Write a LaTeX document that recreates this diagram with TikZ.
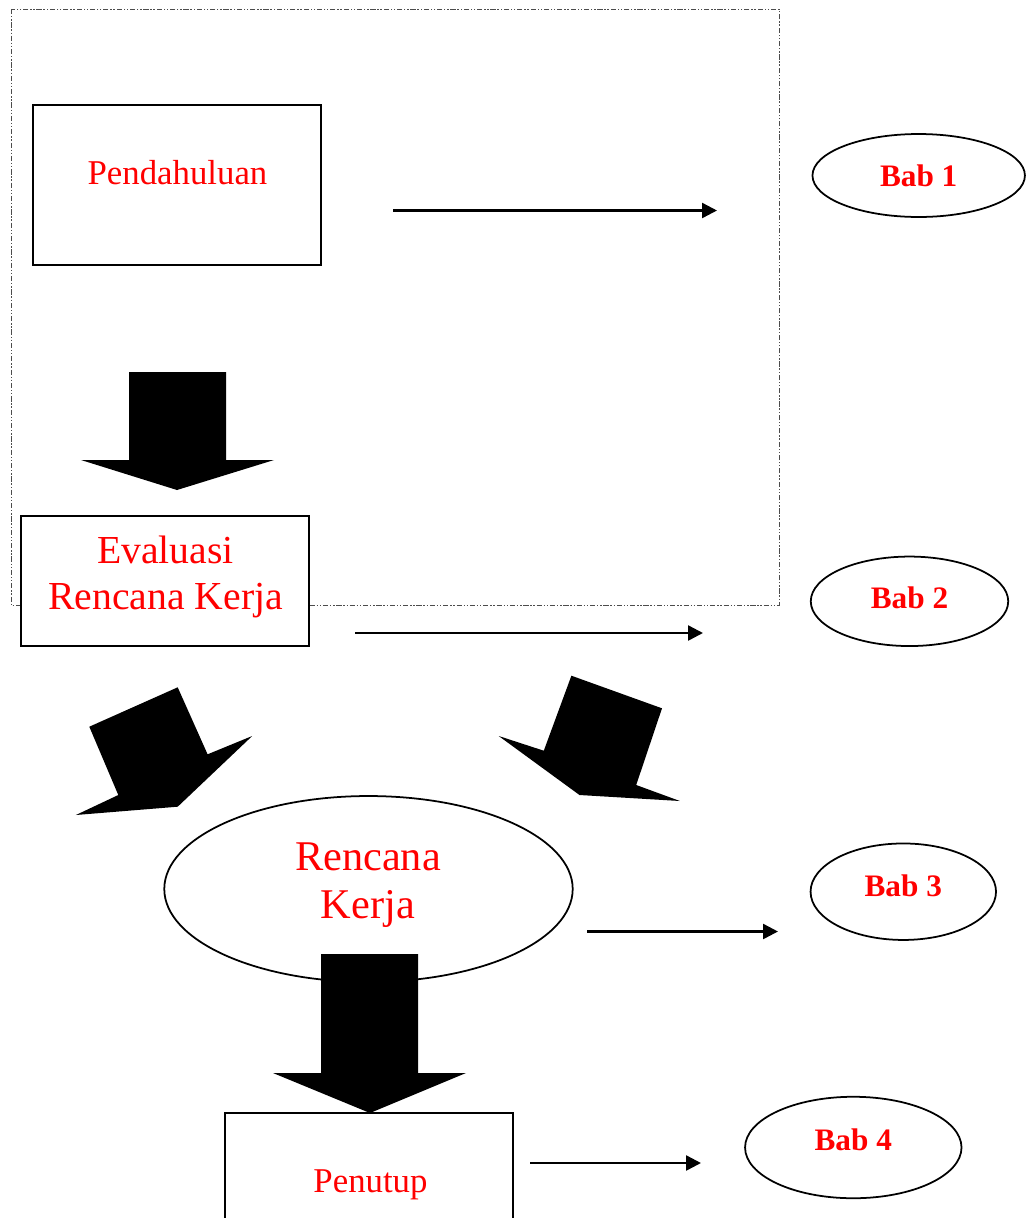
\documentclass[tikz,border=0pt]{standalone}
\usepackage{fontspec}
\setmainfont{Liberation Serif}
\usetikzlibrary{shapes.geometric,arrows.meta}

\newcommand{\txtcolor}{red}

\begin{document}
\begin{tikzpicture}[x=0.02cm,y=-0.02cm,
  box/.style={draw,fill=white,line width=1pt,inner sep=0pt,minimum width=5.76cm},
  oval/.style={draw,fill=white,ellipse,line width=1pt,inner sep=0pt},
  babtext/.style={text=\txtcolor,font=\fontsize{17.8}{20}\selectfont\bfseries},
  thinarrow/.style={line width=1.4pt,-{Triangle[length=8.5pt,width=8.5pt]}},
  bigarrow/.style={fill=black}]

 \useasboundingbox (0,0) rectangle (1027,1218);
 \clip (0,0) rectangle (1027,1218);

 % frame
 \draw[line width=0.5pt,black!70,dash pattern=on 3pt off 1pt on 0.8pt off 1pt on 0.8pt off 1pt] (11,9) rectangle (779,605);

 % left column
 \node[box,minimum height=3.2cm] (pend) at (177,185) {};
 \node[text=\txtcolor,font=\fontsize{19.8}{23}\selectfont] (pendtxt) at (177.5,173) {Pendahuluan};

 \node[box,minimum height=2.6cm] (eval) at (165,581) {};
 \node[text=\txtcolor,align=center,font=\fontsize{22.6}{25.8}\selectfont] (evaltxt) at (165.5,577) {Evaluasi\\Rencana Kerja};

 \node[oval,minimum width=8.17cm,minimum height=3.72cm] (renc) at (368.5,889) {};
 \node[text=\txtcolor,align=center,font=\fontsize{24.1}{27.4}\selectfont] (renctxt) at (368,885) {Rencana\\Kerja};

 \node[box,minimum height=3.2cm] (tutup) at (369,1193) {};
 \node[text=\txtcolor,font=\fontsize{19.8}{23}\selectfont] (tutuptxt) at (370.5,1185) {Penutup};

 % chapters
 \node[oval,minimum width=4.25cm,minimum height=1.66cm,label={[babtext]center:Bab 1}] (bab1) at (918.7,175.5) {};
 \node[oval,minimum width=3.95cm,minimum height=1.79cm,label={[babtext,yshift=2pt]center:Bab 2}] (bab2) at (909.5,601.3) {};
 \node[oval,minimum width=3.71cm,minimum height=1.93cm,label={[babtext,yshift=3.1pt]center:Bab 3}] (bab3) at (903.3,891.7) {};
 \node[oval,minimum width=4.33cm,minimum height=2.03cm,label={[babtext,yshift=4.5pt]center:Bab 4}] (bab4) at (853.3,1147.5) {};

 % thin arrows
 \coordinate (a1s) at (393,210.5); \coordinate (a1e) at (717,210.5);
 \coordinate (a2s) at (355,633);   \coordinate (a2e) at (703,633);
 \coordinate (a3s) at (587,931.5); \coordinate (a3e) at (778,931.5);
 \coordinate (a4s) at (530,1163);  \coordinate (a4e) at (701,1163);
 \draw[thinarrow] (a1s) -- (a1e);
 \draw[thinarrow] (a2s) -- (a2e);
 \draw[thinarrow] (a3s) -- (a3e);
 \draw[thinarrow] (a4s) -- (a4e);

 % block arrows
 \fill[bigarrow] (129,372) -- (226,372) -- (226,460) -- (274,460) -- (177,490) -- (81,460) -- (129,460) -- cycle;
 \fill[bigarrow] (89.3,726.7) -- (177.7,687.3) -- (207.6,754.3) -- (252.2,736) -- (177.7,806.7) -- (75.9,815) -- (118.3,795) -- cycle;
 \fill[bigarrow] (498.7,736) -- (543.8,750.7) -- (571.4,675.7) -- (662,708.3) -- (636.2,785) -- (679.9,801) -- (579.5,795) -- cycle;
 \fill[bigarrow] (321,954) -- (418,954) -- (418,1073) -- (466,1073) -- (370,1113) -- (273,1073) -- (321,1073) -- cycle;

\end{tikzpicture}
\end{document}
